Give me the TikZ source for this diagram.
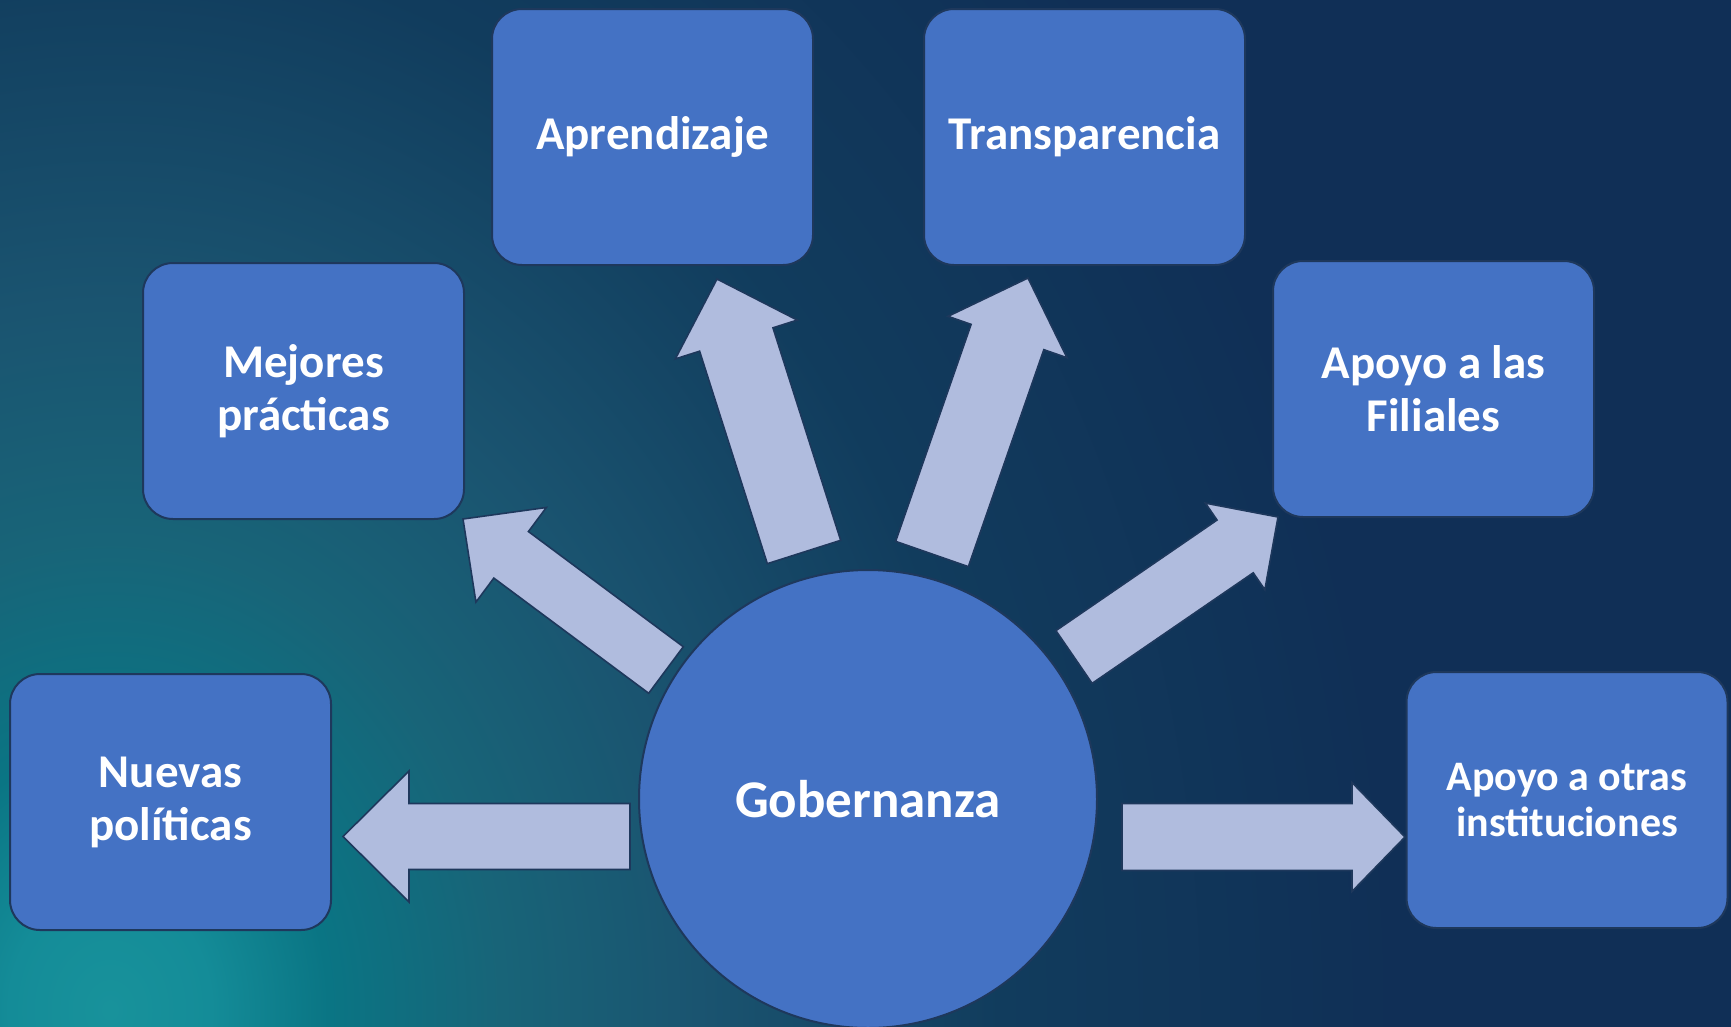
\documentclass[tikz,border=0pt]{standalone}
\usepackage{fontspec}
\setmainfont{Carlito}
\usetikzlibrary{calc}

\definecolor{boxblue}{HTML}{4472C4}
\definecolor{edgenavy}{RGB}{30,56,92}
\definecolor{arrowlav}{RGB}{176,188,222}
\definecolor{bgnavy}{RGB}{16,47,86}
\definecolor{glowA}{RGB}{24,146,155}
\definecolor{glowB}{RGB}{20,140,152}
\definecolor{glowC}{RGB}{10,117,132}
\definecolor{glowD}{RGB}{24,100,120}
\definecolor{glowE}{RGB}{26,84,112}
\definecolor{glowF}{RGB}{17,60,93}

\pgfdeclareradialshading{bgglow}{\pgfpoint{0bp}{0bp}}{%
  color(0bp)=(glowA); color(1.8bp)=(glowB); color(3.9bp)=(glowC);
  color(7bp)=(glowD); color(10.5bp)=(glowE); color(15.9bp)=(glowF);
  color(23bp)=(bgnavy); color(50bp)=(bgnavy)}

\tikzset{
  topicbox/.style={rectangle, rounded corners=30pt, fill=boxblue, draw=edgenavy,
    line width=2pt, minimum width=321pt, minimum height=256pt, align=center,
    text=white, font=\bfseries\fontsize{47}{53}\selectfont},
  hubcircle/.style={circle, fill=boxblue, draw=edgenavy, line width=2pt,
    minimum size=458pt, inner sep=0pt, text=white,
    font=\bfseries\fontsize{53}{60}\selectfont},
  arrowshape/.style={fill=arrowlav, draw=edgenavy, line width=1.6pt, line join=miter}
}

% block arrow: #1 tail, #2 tip, #3 half shaft, #4 half head, #5 head length
\newcommand{\bigarrow}[5]{%
  \coordinate (hb) at ($(#2)!#5!(#1)$);
  \draw[arrowshape] ($(#1)!#3!90:(#2)$) -- ($(hb)!#3!90:(#2)$) -- ($(hb)!#4!90:(#2)$)
    -- (#2) -- ($(hb)!#4!-90:(#2)$) -- ($(hb)!#3!-90:(#2)$) -- ($(#1)!#3!-90:(#2)$) -- cycle;
}

\begin{document}
\begin{tikzpicture}[x=1pt, y=-1pt]
  % background
  \useasboundingbox (0,0) rectangle (1731,1026);
  \begin{scope}
    \clip (-10,-10) rectangle (1741,1036);
    \fill[bgnavy] (-10,-10) rectangle (1741,1036);
    \shade[shading=bgglow] (110,1010) ellipse [x radius=1400, y radius=1680];
  \end{scope}

  % arrow ends
  \coordinate (tNue) at (630,836.5);  \coordinate (pNue) at (343,836.5);
  \coordinate (tOtr) at (1122,837);   \coordinate (pOtr) at (1405,837);
  \coordinate (tMej) at (666,670);    \coordinate (pMej) at (463,519);
  \coordinate (tApr) at (804,552);    \coordinate (pApr) at (717,279);
  \coordinate (tTra) at (932,554);    \coordinate (pTra) at (1028,278);
  \coordinate (tFil) at (1074,657);   \coordinate (pFil) at (1278,517);

  \bigarrow{tNue}{pNue}{33pt}{65.5pt}{66pt}
  \bigarrow{tOtr}{pOtr}{33.5pt}{54.5pt}{53pt}
  \bigarrow{tMej}{pMej}{29pt}{59pt}{60pt}
  \bigarrow{tApr}{pApr}{38.5pt}{64pt}{63.5pt}
  \bigarrow{tTra}{pTra}{38.5pt}{63pt}{62.5pt}
  \bigarrow{tFil}{pFil}{32pt}{52.5pt}{52pt}

  % boxes
  \node[topicbox] (nuevas) at (170.5,802) {Nuevas\\políticas};
  \node[topicbox] (mejores) at (303.5,391) {Mejores\\prácticas};
  \node[topicbox] (aprend) at (652.5,137) {Aprendizaje};
  \node[topicbox] (transp) at (1084.5,137) {Transparencia};
  \node[topicbox] (filial) at (1433.5,389) {Apoyo a las\\Filiales};
  \node[topicbox, font=\bfseries\fontsize{42}{46}\selectfont] (otras) at (1567,800) {Apoyo a otras\\instituciones};

  % hub
  \node[hubcircle] (gob) at (868,799) {Gobernanza};
\end{tikzpicture}
\end{document}
